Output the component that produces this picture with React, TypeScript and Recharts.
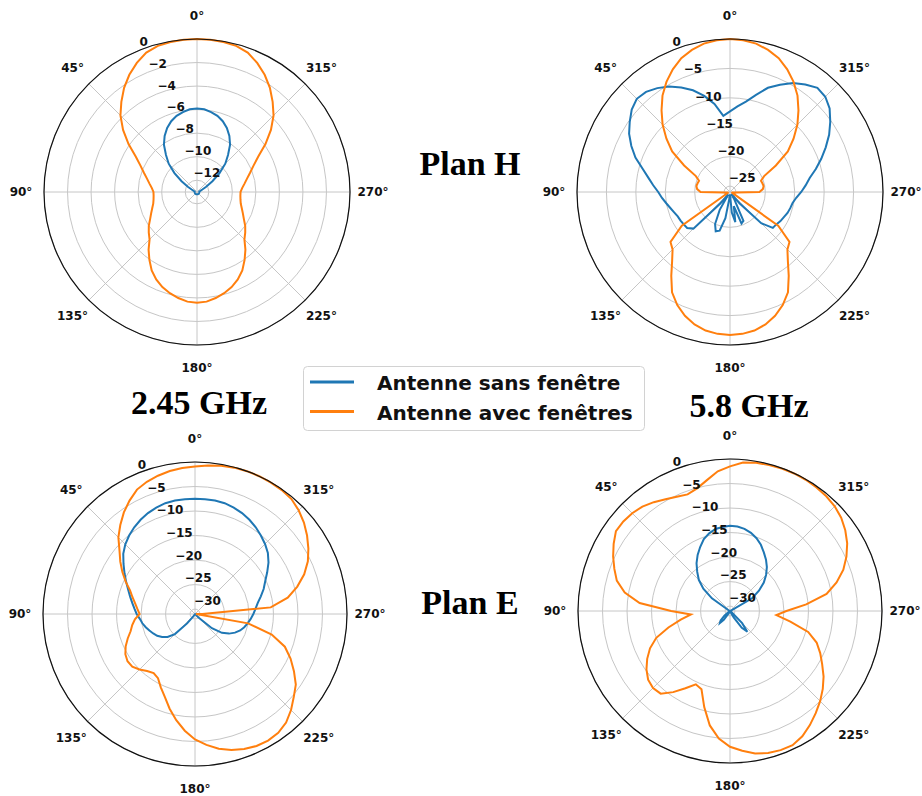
import React from 'react';
import { RadarChart, Radar, PolarGrid, PolarAngleAxis, PolarRadiusAxis } from 'recharts';

const BLUE = '#1f77b4';
const ORANGE = '#ff7f0e';

// angle of each sample, degrees (0 at top, counter-clockwise)
const ANGLES = [
  0, 5, 10, 15, 20, 25, 30, 35, 40, 45, 50, 55,
  60, 65, 70, 75, 80, 85, 90, 95, 100, 105, 110, 115,
  120, 125, 130, 135, 140, 145, 150, 155, 160, 165, 170, 175,
  180, 185, 190, 195, 200, 205, 210, 215, 220, 225, 230, 235,
  240, 245, 250, 255, 260, 265, 270, 275, 280, 285, 290, 295,
  300, 305, 310, 315, 320, 325, 330, 335, 340, 345, 350, 355,
];

// Plan H - 2.45 GHz (dB)
const h245Sans = [
  -5.9, -5.95, -6.1, -6.3, -6.6, -7.0, -7.5, -8.1, -8.9, -9.6, -10.5, -11.4,
  -12.1, -12.5, -12.7, -12.8, -12.8, -12.8, -12.8, -12.8, -12.8, -12.8, -12.8, -12.8,
  -12.8, -12.8, -12.8, -12.8, -12.8, -12.8, -12.8, -12.8, -12.8, -12.8, -12.8, -12.8,
  -12.8, -12.8, -12.8, -12.8, -12.8, -12.8, -12.8, -12.8, -12.8, -12.8, -12.8, -12.8,
  -12.8, -12.8, -12.8, -12.8, -12.8, -12.8, -12.8, -12.8, -12.8, -12.8, -12.7, -12.5,
  -12.1, -11.4, -10.5, -9.6, -8.9, -8.1, -7.5, -7.0, -6.6, -6.3, -6.1, -5.95,
];
const h245Avec = [
  0, -0.02, -0.06, -0.15, -0.4, -0.9, -1.5, -2.2, -3.0, -3.8, -4.8, -5.9,
  -7.0, -7.7, -8.2, -8.6, -8.9, -9.15, -9.3, -9.3, -9.25, -9.15, -8.95, -8.7,
  -8.4, -8.0, -7.65, -7.3, -6.6, -5.95, -5.3, -4.8, -4.4, -4.1, -3.85, -3.65,
  -3.6, -3.65, -3.85, -4.1, -4.4, -4.8, -5.3, -5.95, -6.6, -7.3, -7.65, -8.0,
  -8.4, -8.7, -8.95, -9.15, -9.25, -9.3, -9.3, -9.15, -8.9, -8.6, -8.2, -7.7,
  -7.0, -5.9, -4.8, -3.8, -3.0, -2.2, -1.5, -0.9, -0.4, -0.15, -0.06, -0.02,
];

// Plan H - 5.8 GHz (dB)
const h58Sans = [
  -12.3, -13.0, -10.8, -9.1, -7.6, -6.4, -5.3, -4.45, -3.8, -3.6, -4.2, -5.2,
  -6.2, -7.5, -8.9, -10.6, -11.9, -12.9, -13.8, -14.4, -15.0, -15.5, -15.9, -16.2,
  -16.3, -16.4, -16.5, -17.2, -23.5, -25.5, -22.5, -20.0, -18.9, -19.2, -21.5, -25.0,
  -25.6, -22.5, -20.8, -23.5, -20.3, -20.6, -24.5, -25.6, -23.5, -18.5, -16.5, -16.4,
  -16.1, -15.9, -15.6, -15.4, -15.2, -14.7, -13.9, -13.1, -12.25, -10.9, -9.5, -8.05,
  -6.55, -5.2, -3.9, -3.1, -2.9, -3.7, -4.6, -5.9, -7.15, -8.9, -10.4, -11.4,
];
const h58Avec = [
  0, -0.1, -0.4, -1.0, -1.8, -3.0, -4.4, -6.0, -7.9, -9.8, -11.9, -14.0,
  -17.0, -19.6, -20.4, -20.3, -20.2, -20.4, -21.0, -25.0, -25.6, -25.6, -25.6, -25.5,
  -25.0, -16.0, -12.8, -12.2, -10.7, -8.6, -6.3, -4.8, -3.6, -2.7, -2.1, -1.8,
  -1.7, -1.8, -2.1, -2.7, -3.6, -4.8, -6.3, -8.6, -10.7, -12.2, -12.8, -16.0,
  -25.0, -25.5, -25.6, -25.6, -25.6, -25.0, -21.0, -20.4, -20.2, -20.3, -20.4, -19.6,
  -17.0, -14.0, -11.9, -9.8, -7.9, -6.0, -4.4, -3.0, -1.8, -1.0, -0.4, -0.1,
];

// Plan E - 2.45 GHz (dB)
const e245Sans = [
  -7.5, -7.5, -7.5, -7.6, -7.9, -8.3, -8.8, -9.4, -10.1, -10.9, -11.9, -13.2,
  -14.4, -15.5, -16.5, -17.3, -18.0, -18.6, -19.1, -19.7, -20.1, -20.6, -21.1, -21.6,
  -22.1, -22.8, -23.7, -25.2, -28.5, -30.4, -30.9, -30.9, -30.9, -30.9, -30.9, -30.9,
  -30.9, -30.9, -30.9, -30.9, -30.9, -30.9, -30.9, -30.9, -30.9, -30.0, -26.5, -24.3,
  -23.0, -22.0, -21.2, -20.6, -20.1, -19.6, -19.1, -18.6, -18.0, -17.1, -16.1, -15.2,
  -14.0, -12.7, -11.6, -10.8, -10.1, -9.4, -8.8, -8.3, -7.9, -7.6, -7.5, -7.5,
];
const e245Avec = [
  -0.9, -1.1, -1.4, -1.8, -2.3, -3.0, -4.3, -5.7, -7.3, -8.9, -10.9, -12.4,
  -13.9, -15.4, -16.9, -17.8, -18.6, -19.2, -19.7, -18.7, -18.0, -17.4, -16.4, -15.4,
  -14.6, -14.2, -14.3, -15.0, -15.8, -16.3, -15.9, -14.5, -13.0, -11.0, -9.0, -7.1,
  -5.4, -4.2, -3.1, -2.3, -1.7, -1.3, -1.2, -1.4, -2.1, -3.3, -4.7, -5.9,
  -7.7, -9.5, -11.5, -14.8, -20.0, -30.8, -29.5, -15.5, -11.8, -9.4, -7.3, -5.6,
  -4.3, -3.1, -2.0, -1.1, -0.4, -0.15, -0.05, 0, 0, -0.1, -0.3, -0.6,
];

// Plan E - 5.8 GHz (dB)
const e58Sans = [
  -13.6, -13.8, -14.0, -14.6, -15.4, -16.6, -17.8, -19.1, -20.6, -22.0, -23.9, -26.5,
  -30.5, -30.9, -30.9, -30.9, -30.9, -30.9, -30.9, -30.9, -30.9, -30.9, -30.9, -30.9,
  -30.9, -30.5, -29.5, -28.3, -27.8, -28.8, -30.5, -30.9, -30.9, -30.9, -30.9, -30.9,
  -30.9, -30.9, -30.9, -30.9, -30.9, -30.9, -29.5, -26.8, -25.5, -27.5, -30.5, -30.9,
  -30.9, -30.9, -30.9, -30.9, -30.9, -30.9, -30.9, -30.9, -30.9, -30.9, -30.9, -30.5,
  -25.8, -23.8, -22.0, -20.6, -19.3, -18.2, -17.2, -16.1, -15.2, -14.5, -14.0, -13.7,
];
const e58Avec = [
  -1.5, -2.4, -3.9, -5.1, -5.7, -5.3, -4.7, -3.9, -3.2, -2.8, -2.6, -2.6,
  -3.6, -4.7, -5.9, -7.1, -9.2, -12.5, -19.0, -23.0, -20.8, -18.0, -15.0, -13.0,
  -11.5, -10.2, -9.2, -8.8, -9.0, -10.8, -12.8, -14.5, -14.0, -10.7, -7.3, -4.9,
  -3.3, -2.4, -1.5, -1.0, -0.8, -0.8, -1.5, -2.6, -3.8, -5.0, -6.3, -7.7,
  -9.3, -10.7, -12.2, -14.5, -18.5, -21.5, -19.5, -15.4, -11.0, -8.5, -6.4, -4.8,
  -3.4, -2.3, -1.4, -0.8, -0.45, -0.25, -0.1, -0.05, -0.1, -0.2, -0.3, -0.6,
];

const TICKS_H245 = [-12, -10, -8, -6, -4, -2, 0];
const TICKS_H58 = [-25, -20, -15, -10, -5, 0];
const TICKS_E = [-30, -25, -20, -15, -10, -5, 0];
const SPOKES = [0, 45, 90, 135, 180, 225, 270, 315];

const LEGEND = [
  { name: 'Antenne sans fenêtre', color: BLUE },
  { name: 'Antenne avec fenêtres', color: ORANGE },
];

const LABEL_FONT = '"DejaVu Sans", sans-serif';
const TITLE_FONT = '"Liberation Serif", "Times New Roman", serif';

const AngleTick = (props: any) => {
  const { x, y, payload } = props;
  if (payload.value % 45 !== 0) return null;
  return (
    <text x={x} y={y} textAnchor="middle" dominantBaseline="central" fontFamily={LABEL_FONT} fontWeight="bold" fontSize={12} fill="#111">
      {payload.value}°
    </text>
  );
};

const RadiusTick = (props: any) => {
  const { x, y, payload } = props;
  const label = payload.value < 0 ? '\u2212' + Math.abs(payload.value) : String(payload.value);
  return (
    <text x={x + 1} y={y - 4.5} textAnchor="start" fontFamily={LABEL_FONT} fontWeight="bold" fontSize={12} fill="#111">
      {label}
    </text>
  );
};

const PAD = 45;

interface PatternProps {
  cx: number;
  cy: number;
  r: number;
  rMin: number;
  ticks: number[];
  sans: number[];
  avec: number[];
}

const Pattern: React.FC<PatternProps> = ({ cx, cy, r, rMin, ticks, sans, avec }) => {
  const rows = ANGLES.map((a, i) => ({ angle: a, sans: sans[i], avec: avec[i] }));
  // recharts walks the categories clockwise from the top; matplotlib goes
  // counter-clockwise, so feed the rows as 0, 355, 350 ... 5
  const data = [rows[0], ...rows.slice(1).reverse()];
  const size = 2 * (r + PAD);
  return (
    <div style={{ position: 'absolute', left: cx - r - PAD, top: cy - r - PAD, width: size, height: size }}>
      <RadarChart
        width={size}
        height={size}
        data={data}
        cx={r + PAD}
        cy={r + PAD}
        outerRadius={r}
        margin={{ top: 0, right: 0, bottom: 0, left: 0 }}
      >
        <PolarGrid gridType="circle" polarAngles={SPOKES} stroke="#c6c6c6" strokeWidth={1} />
        <PolarAngleAxis
          dataKey="angle"
          axisLineType="circle"
          axisLine={{ stroke: '#111', strokeWidth: 1.2 }}
          tickLine={false}
          tickSize={23}
          tick={AngleTick}
        />
        <Radar name={LEGEND[0].name} dataKey="sans" stroke={LEGEND[0].color} strokeWidth={2} fill="none" fillOpacity={0} dot={false} isAnimationActive={false} />
        <Radar name={LEGEND[1].name} dataKey="avec" stroke={LEGEND[1].color} strokeWidth={2} fill="none" fillOpacity={0} dot={false} isAnimationActive={false} />
        <PolarRadiusAxis
          angle={112.5}
          type="number"
          domain={[rMin, 0]}
          ticks={ticks}
          allowDataOverflow
          axisLine={false}
          tickLine={false}
          tick={RadiusTick}
        />
      </RadarChart>
    </div>
  );
};

export default function App() {
  return (
    <div style={{ position: 'absolute', left: 0, top: 0, width: 922, height: 796, background: '#fff' }}>
      <Pattern cx={197} cy={192} r={153} rMin={-12.83} ticks={TICKS_H245} sans={h245Sans} avec={h245Avec} />
      <Pattern cx={730} cy={192} r={153} rMin={-25.85} ticks={TICKS_H58} sans={h58Sans} avec={h58Avec} />
      <Pattern cx={195} cy={614} r={152} rMin={-30.92} ticks={TICKS_E} sans={e245Sans} avec={e245Avec} />
      <Pattern cx={730} cy={611} r={152} rMin={-30.92} ticks={TICKS_E} sans={e58Sans} avec={e58Avec} />
      <svg width={922} height={796} style={{ position: 'absolute', left: 0, top: 0, pointerEvents: 'none' }}>
        <text x={470} y={175} textAnchor="middle" fontFamily={TITLE_FONT} fontWeight="bold" fontSize={34} fill="#000">Plan H</text>
        <text x={470} y={614} textAnchor="middle" fontFamily={TITLE_FONT} fontWeight="bold" fontSize={34} fill="#000">Plan E</text>
        <text x={199} y={414} textAnchor="middle" fontFamily={TITLE_FONT} fontWeight="bold" fontSize={34} fill="#000">2.45 GHz</text>
        <text x={749} y={417} textAnchor="middle" fontFamily={TITLE_FONT} fontWeight="bold" fontSize={34} fill="#000">5.8 GHz</text>
        <rect x={303.5} y={366.5} width={341} height={64} rx={4} fill="#fff" stroke="#d2d2d2" strokeWidth={1} />
        {LEGEND.map((item, i) => (
          <g key={item.name}>
            <line x1={310} x2={354} y1={382 + i * 29.5} y2={382 + i * 29.5} stroke={item.color} strokeWidth={3} />
            <text x={377} y={390 + i * 29.5} fontFamily={LABEL_FONT} fontWeight="bold" fontSize={20} fill="#111">{item.name}</text>
          </g>
        ))}
      </svg>
    </div>
  );
}
